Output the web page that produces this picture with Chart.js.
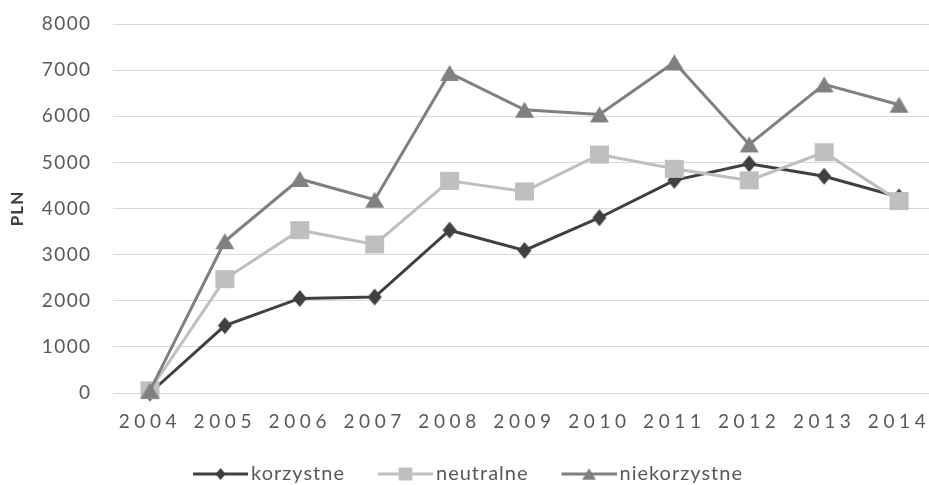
<!DOCTYPE html>
<html>
<head>
<meta charset="utf-8">
<script src="https://cdn.jsdelivr.net/npm/chart.js@4.4.1/dist/chart.umd.min.js"></script>
<style>
  html, body { margin: 0; padding: 0; background: #ffffff; }
  #wrap { width: 929px; height: 485px; position: relative; }
</style>
</head>
<body>
<div id="wrap"><canvas id="chart"></canvas></div>
<script>
// ---- data ----
const years = [2004, 2005, 2006, 2007, 2008, 2009, 2010, 2011, 2012, 2013, 2014];
const korzystne    = [0,  1460, 2050, 2080, 3530, 3090, 3800, 4610, 4970, 4700, 4250];
const neutralne    = [60, 2470, 3530, 3220, 4600, 4370, 5170, 4860, 4610, 5220, 4160];
const niekorzystne = [50, 3290, 4640, 4190, 6940, 6140, 6040, 7170, 5390, 6690, 6250];
const seriesNames  = ['korzystne', 'neutralne', 'niekorzystne'];
const yTickValues  = [0, 1000, 2000, 3000, 4000, 5000, 6000, 7000, 8000];
const yTitle = 'PLN';

// ---- styles ----
const colors = ['#404040', '#bfbfbf', '#808080'];
const markerShapes = ['diamond', 'square', 'triangle'];
// marker box sizes [width, height] in px
const markerSizes = [[14, 17], [19, 18], [19, 16]];
const FONT = 'Lato, "Open Sans", sans-serif';
const LEG_W = 55;     // legend pointStyleWidth
const LEG_PAD = 26;   // legend padding

function toXY(vals) { return vals.map((v, i) => ({ x: years[i], y: v })); }

// draws a marker shape centred (bounding box) at cx, cy
function pathMarker(c, shape, cx, cy, w, h) {
  c.beginPath();
  if (shape === 'diamond') {
    c.moveTo(cx, cy - h / 2); c.lineTo(cx + w / 2, cy); c.lineTo(cx, cy + h / 2); c.lineTo(cx - w / 2, cy);
  } else if (shape === 'square') {
    c.rect(cx - w / 2, cy - h / 2, w, h);
  } else {
    c.moveTo(cx, cy - h / 2); c.lineTo(cx + w / 2, cy + h / 2); c.lineTo(cx - w / 2, cy + h / 2);
  }
  c.closePath();
}

function markerImage(i, scale) {
  const w = markerSizes[i][0] * scale, h = markerSizes[i][1] * scale;
  const cv = document.createElement('canvas');
  cv.width = Math.ceil(w) + 2; cv.height = Math.ceil(h) + 2;
  const c = cv.getContext('2d');
  c.fillStyle = colors[i];
  pathMarker(c, markerShapes[i], cv.width / 2, cv.height / 2, w, h);
  c.fill();
  return cv;
}

function legendIcon(i) {
  const C = LEG_W + 14, H = 22;
  const cv = document.createElement('canvas');
  cv.width = C; cv.height = H;
  const c = cv.getContext('2d');
  const x0 = C - 55, x1 = C, cy = H / 2;
  c.strokeStyle = colors[i]; c.lineWidth = 3;
  c.beginPath(); c.moveTo(x0, cy); c.lineTo(x1, cy); c.stroke();
  c.fillStyle = colors[i];
  const s = 0.72;
  pathMarker(c, markerShapes[i], (x0 + x1) / 2, cy, markerSizes[i][0] * s, markerSizes[i][1] * s);
  c.fill();
  return cv;
}

const spacingPlugin = {
  id: 'spacing',
  beforeLayout(chart) { chart.ctx.letterSpacing = '1px'; },
  beforeDraw(chart) {
    chart.ctx.letterSpacing = '1px';
    const xs = chart.scales.x;
    if (xs && !xs._spaced) {
      const orig = xs.drawLabels;
      xs.drawLabels = function (area) {
        const ctx = this.ctx;
        ctx.save();
        ctx.letterSpacing = '4.6px';
        orig.call(this, area);
        ctx.restore();
      };
      xs._spaced = true;
    }
    const ys = chart.scales.y;
    if (ys && !ys._spaced) {
      const origY = ys.drawLabels;
      ys.drawLabels = function (area) {
        const ctx = this.ctx;
        ctx.save();
        ctx.letterSpacing = '1.4px';
        origY.call(this, area);
        ctx.restore();
      };
      ys._spaced = true;
    }
  }
};

const datasets = [korzystne, neutralne, niekorzystne].map((vals, i) => ({
  label: seriesNames[i],
  data: toXY(vals),
  borderColor: colors[i],
  backgroundColor: colors[i],
  borderWidth: 3,
  pointStyle: markerImage(i, 1),
  pointRadius: 9,
  pointHoverRadius: 9,
  pointBackgroundColor: colors[i],
  pointBorderColor: colors[i],
  pointBorderWidth: 0,
  tension: 0,
  clip: false,
  order: 3 - i
}));

new Chart(document.getElementById('chart'), {
  type: 'line',
  data: { datasets },
  plugins: [spacingPlugin],
  options: {
    responsive: true,
    maintainAspectRatio: false,
    animation: false,
    layout: { autoPadding: false, padding: { top: 24, right: 0, left: 0, bottom: -9 } },
    plugins: {
      tooltip: { enabled: false },
      legend: {
        display: true,
        position: 'bottom',
        labels: {
          usePointStyle: true,
          pointStyleWidth: LEG_W,
          padding: LEG_PAD,
          color: '#595959',
          font: { family: FONT, size: 20 },
          generateLabels: () => seriesNames.map((n, i) => ({
            text: n,
            fillStyle: colors[i],
            strokeStyle: colors[i],
            lineWidth: 0,
            pointStyle: legendIcon(i),
            hidden: false,
            datasetIndex: i,
            fontColor: '#595959'
          }))
        }
      }
    },
    scales: {
      x: {
        type: 'linear',
        min: 2003.5,
        max: 2014.4,
        grid: { display: false, drawTicks: false },
        border: { display: false },
        afterBuildTicks: s => { s.ticks = years.map(v => ({ value: v })); },
        afterFit: s => { s.height = 45; s.paddingLeft = 0; s.paddingRight = 0; },
        ticks: {
          autoSkip: false,
          maxRotation: 0,
          padding: 17,
          color: '#595959',
          font: { family: FONT, size: 19 },
          callback: v => String(v)
        }
      },
      y: {
        min: 0,
        max: 8000,
        afterBuildTicks: s => { s.ticks = yTickValues.map(v => ({ value: v })); },
        afterFit: s => { s.width = 112.5; s.paddingTop = 0; s.paddingBottom = 0; },
        grid: { color: '#d9d9d9', lineWidth: 1, drawTicks: false },
        border: { display: false },
        ticks: {
          padding: 21,
          color: '#595959',
          font: { family: FONT, size: 19 },
          callback: v => String(v)
        },
        title: {
          display: true,
          text: yTitle,
          color: '#404040',
          font: { family: FONT, size: 17, weight: 'bold' },
          padding: { top: 7.5, bottom: 0 }
        }
      }
    }
  }
});
</script>
</body>
</html>
